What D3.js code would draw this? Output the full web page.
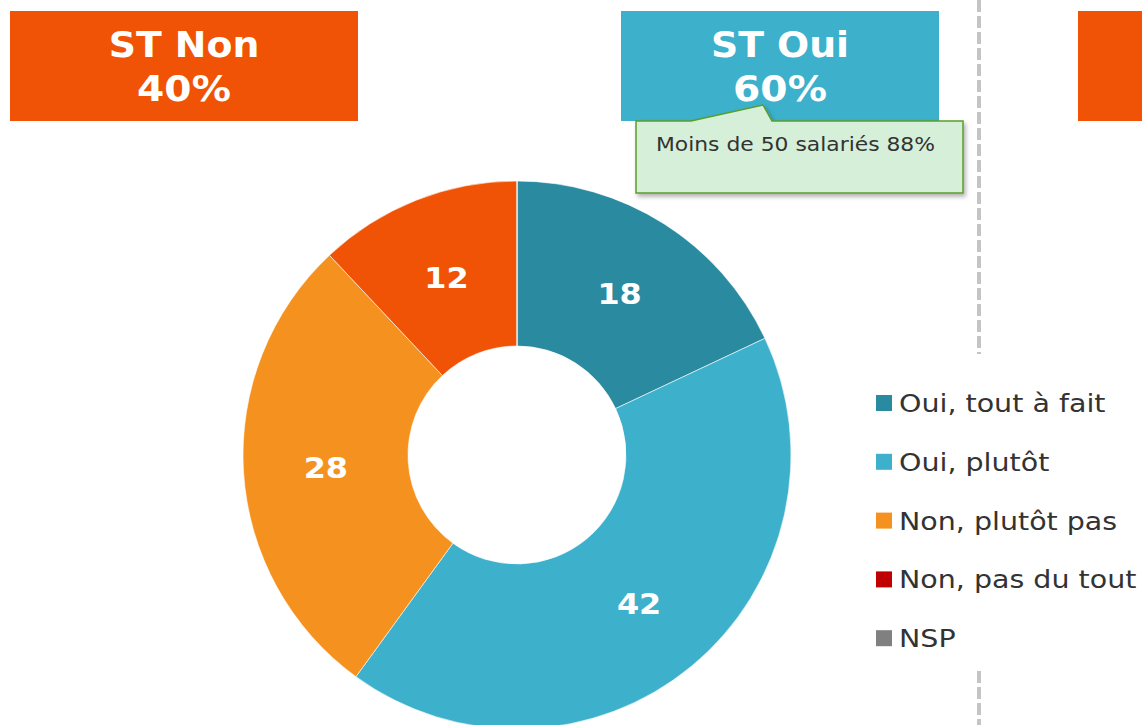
<!DOCTYPE html>
<html>
<head>
<meta charset="utf-8">
<style>
body { margin: 0; background: #fff; }
svg { display: block; font-family: "DejaVu Sans", Verdana, sans-serif; }
.lbl { fill: #fff; font-weight: bold; font-size: 29px; }
.legend text { fill: #333; font-size: 25px; }
</style>
<script src="https://d3js.org/d3.v7.min.js"></script>
</head>
<body>
<svg width="1142" height="725"></svg>
<script>

var categories = ["Oui, tout à fait", "Oui, plutôt", "Non, plutôt pas", "Non, pas du tout", "NSP"];
var values = [18, 42, 28, 12, 0];
var colors = ["#2a8a9f", "#3db0cc", "#f5921f", "#f05305", "#808080"];
var legendColors = ["#2a8a9f", "#3db0cc", "#f5921f", "#c00000", "#808080"];
var headers = [
  {line1: "ST Non", line2: "40%", color: "#f05305", x: 10, w: 348},
  {line1: "ST Oui", line2: "60%", color: "#3db0cc", x: 621, w: 318},
  {line1: "", line2: "", color: "#f05305", x: 1078, w: 70}
];
var note = "Moins de 50 salariés 88%";

var svg = d3.select("svg");

// text in the original is wider than DejaVu, stretch it a bit
function place(x, y, sx) {
  return "translate(" + x + "," + y + ") scale(" + sx + ",1)";
}

// separator
svg.append("line").attr("x1", 979).attr("x2", 979).attr("y1", 0).attr("y2", 354)
    .attr("stroke", "#c4c4c4").attr("stroke-width", 4).attr("stroke-dasharray", "12,4");
svg.append("line").attr("x1", 979).attr("x2", 979).attr("y1", 671).attr("y2", 725)
    .attr("stroke", "#c4c4c4").attr("stroke-width", 4).attr("stroke-dasharray", "12,4");

// header boxes
var hd = svg.selectAll(".hd").data(headers).enter().append("g").attr("class", "hd");
hd.append("rect").attr("x", function(d) { return d.x; }).attr("y", 11)
    .attr("width", function(d) { return d.w; }).attr("height", 110)
    .attr("fill", function(d) { return d.color; });
hd.append("text").attr("transform", function(d) { return place(d.x + d.w / 2, 57, 1.08); })
    .attr("text-anchor", "middle").attr("fill", "#fff").attr("font-weight", "bold").attr("font-size", 35)
    .text(function(d) { return d.line1; });
hd.append("text").attr("transform", function(d) { return place(d.x + d.w / 2, 101, 1.12); })
    .attr("text-anchor", "middle").attr("fill", "#fff").attr("font-weight", "bold").attr("font-size", 35)
    .text(function(d) { return d.line2; });

// callout
var defs = svg.append("defs");
var f = defs.append("filter").attr("id", "sh").attr("x", "-10%").attr("y", "-10%").attr("width", "130%").attr("height", "140%");
f.append("feDropShadow").attr("dx", 2).attr("dy", 3).attr("stdDeviation", 2).attr("flood-color", "#000").attr("flood-opacity", 0.3);
svg.append("path")
    .attr("d", "M636,121 L691,121 L763,105 L772,121 L963,121 L963,193 L636,193 Z")
    .attr("fill", "#d5efd8").attr("stroke", "#5a9e2a").attr("stroke-width", 1.5)
    .attr("filter", "url(#sh)");
svg.append("text").attr("transform", place(656, 151, 1.15)).attr("font-size", 19).attr("fill", "#333").text(note);

// donut
var cx = 517, cy = 455;
var pie = d3.pie().sort(null).value(function(d) { return d; });
var arc = d3.arc().innerRadius(109).outerRadius(274);
var arcs = pie(values);
var g = svg.append("g").attr("transform", "translate(" + cx + "," + cy + ")");
g.selectAll("path").data(arcs).enter().append("path")
    .attr("d", arc)
    .attr("fill", function(d, i) { return colors[i]; })
    .attr("stroke", "#fff").attr("stroke-width", 0.6);
g.selectAll(".lbl").data(arcs.filter(function(d) { return d.value > 0; })).enter().append("text")
    .attr("class", "lbl")
    .attr("transform", function(d) { var c = arc.centroid(d); return place(c[0], c[1] + 11, 1.1); })
    .attr("text-anchor", "middle")
    .text(function(d) { return d.value; });

// legend
var lg = svg.append("g").attr("class", "legend");
var row = lg.selectAll("g").data(categories).enter().append("g")
    .attr("transform", function(d, i) { return "translate(876," + (403 + i * 58.8) + ")"; });
row.append("rect").attr("x", 0).attr("y", -8).attr("width", 16).attr("height", 16)
    .attr("fill", function(d, i) { return legendColors[i]; });
row.append("text").attr("transform", place(23, 9, 1.14)).text(function(d) { return d; });

</script>
</body>
</html>
